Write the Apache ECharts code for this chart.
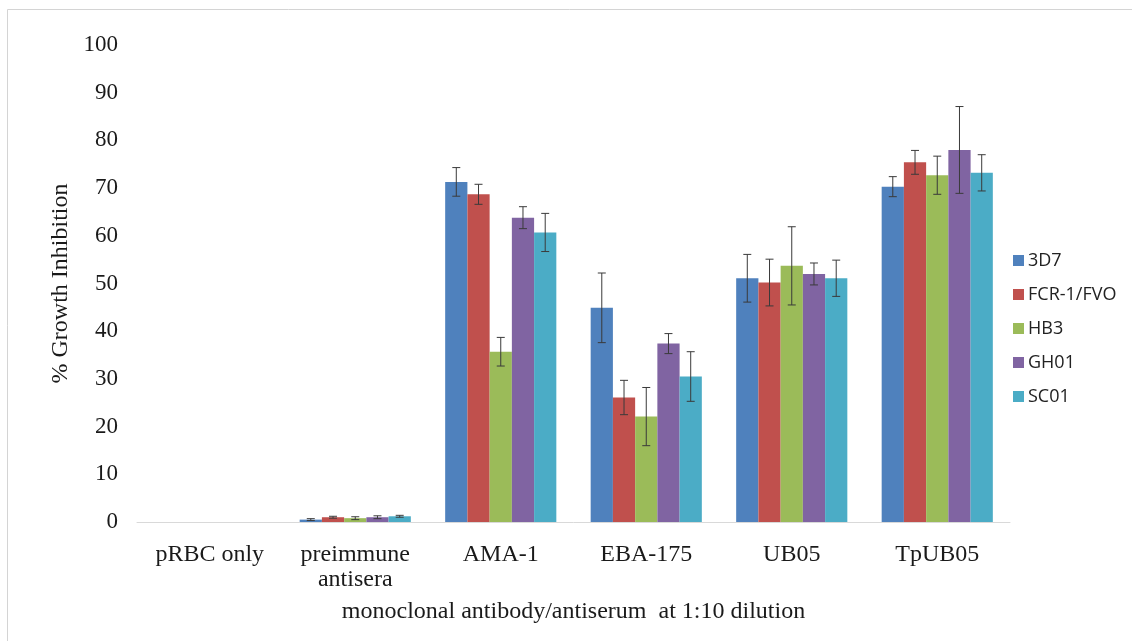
<!DOCTYPE html>
<html>
<head>
<meta charset="utf-8">
<script src="https://cdn.jsdelivr.net/npm/echarts@6/dist/echarts.min.js"></script>
<style>
html,body{margin:0;padding:0;background:#fff;}
#chart{width:1132px;height:641px;}
</style>
</head>
<body>
<div id="chart"></div>
<script>
const categories = ['pRBC only', 'preimmune\nantisera', 'AMA-1', 'EBA-175', 'UB05', 'TpUB05'];
const seriesNames = ['3D7', 'FCR-1/FVO', 'HB3', 'GH01', 'SC01'];
const colors = ['#4F81BD', '#C0504D', '#9BBB59', '#8064A2', '#4BACC6'];

const values3D7  = [0, 0.5, 71.3, 44.9, 51.1, 70.3];
const valuesFCR  = [0, 1.0, 68.7, 26.1, 50.2, 75.4];
const valuesHB3  = [0, 0.8, 35.7, 22.1, 53.7, 72.7];
const valuesGH01 = [0, 1.0, 63.8, 37.4, 52.0, 78.0];
const valuesSC01 = [0, 1.2, 60.7, 30.5, 51.1, 73.2];

const err3D7  = [0, 0.2, 3.0, 7.3, 5.0, 2.1];
const errFCR  = [0, 0.2, 2.1, 3.6, 4.9, 2.5];
const errHB3  = [0, 0.3, 3.0, 6.1, 8.2, 4.0];
const errGH01 = [0, 0.3, 2.3, 2.1, 2.3, 9.1];
const errSC01 = [0, 0.2, 4.0, 5.2, 3.8, 3.8];

const yTicks = [0, 10, 20, 30, 40, 50, 60, 70, 80, 90, 100];

const allValues = [values3D7, valuesFCR, valuesHB3, valuesGH01, valuesSC01];
const allErrors = [err3D7, errFCR, errHB3, errGH01, errSC01];

const CAT_GAP = 0.236;
const serif = 'Liberation Serif';

const chart = echarts.init(document.getElementById('chart'));

const series = [];
seriesNames.forEach((name, i) => {
  series.push({
    name: name,
    type: 'bar',
    data: allValues[i],
    itemStyle: { color: colors[i] },
    barGap: '0%',
    barCategoryGap: (CAT_GAP * 100) + '%',
    emphasis: { disabled: true }
  });
});
seriesNames.forEach((name, i) => {
  const errData = allValues[i].map((v, k) => [k, v - allErrors[i][k], v + allErrors[i][k], allErrors[i][k]]);
  series.push({
    name: 'err_' + name,
    type: 'custom',
    z: 10,
    silent: true,
    encode: { x: 0, y: [1, 2] },
    data: errData,
    renderItem: function (params, api) {
      if (api.value(3) <= 0) return null;
      const k = api.value(0);
      const low = api.coord([k, api.value(1)]);
      const high = api.coord([k, api.value(2)]);
      const band = api.size([1, 0])[0];
      const bw = band * (1 - CAT_GAP) / seriesNames.length;
      const x = low[0] + (i - (seriesNames.length - 1) / 2) * bw;
      const cap = 4;
      const style = { stroke: '#3a3a3a', lineWidth: 1 };
      return {
        type: 'group',
        children: [
          { type: 'line', shape: { x1: x, y1: low[1], x2: x, y2: high[1] }, style: style },
          { type: 'line', shape: { x1: x - cap, y1: low[1], x2: x + cap, y2: low[1] }, style: style },
          { type: 'line', shape: { x1: x - cap, y1: high[1], x2: x + cap, y2: high[1] }, style: style }
        ]
      };
    }
  });
});

const option = {
  backgroundColor: '#ffffff',
  animation: false,
  grid: { left: 137, right: 122, top: 45, bottom: 119, containLabel: false },
  legend: {
    data: seriesNames,
    orient: 'vertical',
    left: 1008,
    top: 245,
    icon: 'rect',
    itemWidth: 11,
    itemHeight: 11,
    itemGap: 13,
    selectedMode: false,
    textStyle: { fontFamily: 'Open Sans', fontSize: 18, color: '#222', lineHeight: 21, padding: [0, 0, 0, -1] }
  },
  xAxis: {
    type: 'category',
    data: categories,
    name: 'monoclonal antibody/antiserum  at 1:10 dilution',
    nameLocation: 'middle',
    nameGap: 78,
    nameTextStyle: { fontFamily: serif, fontSize: 24, color: '#1a1a1a' },
    axisLine: { lineStyle: { color: '#d9d9d9', width: 1 } },
    axisTick: { show: false },
    axisLabel: { fontFamily: serif, fontSize: 24, color: '#1a1a1a', margin: 20, lineHeight: 25, interval: 0 },
    splitLine: { show: false }
  },
  yAxis: {
    type: 'value',
    min: yTicks[0],
    max: yTicks[yTicks.length - 1],
    interval: yTicks[1] - yTicks[0],
    name: '% Growth Inhibition',
    nameLocation: 'middle',
    nameGap: 60,
    nameRotate: 90,
    nameTextStyle: { fontFamily: serif, fontSize: 24, color: '#1a1a1a' },
    axisLine: { show: false },
    axisTick: { show: false },
    splitLine: { show: false },
    axisLabel: { fontFamily: serif, fontSize: 23, color: '#1a1a1a', margin: 19 }
  },
  graphic: [
    { type: 'line', shape: { x1: 7.5, y1: 9.5, x2: 1132, y2: 9.5 }, style: { stroke: '#d4d4d4', lineWidth: 1 } },
    { type: 'line', shape: { x1: 7.5, y1: 9.5, x2: 7.5, y2: 641 }, style: { stroke: '#d4d4d4', lineWidth: 1 } }
  ],
  series: series
};

chart.setOption(option);
</script>
</body>
</html>
